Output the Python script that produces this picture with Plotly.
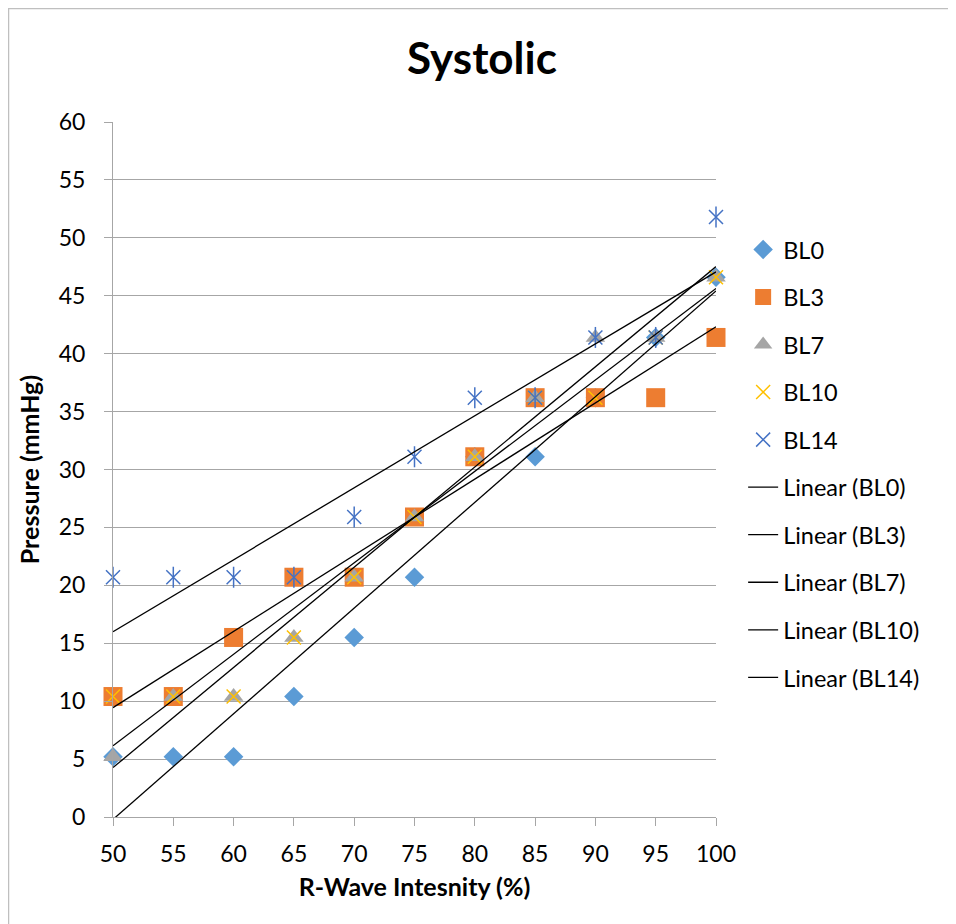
"""Systolic pressure vs R-wave intensity, with linear trendlines per baseline."""

import numpy as np
import plotly.graph_objects as go

FONT_FAMILY = "Lato, 'Open Sans', sans-serif"

intensity = [50, 55, 60, 65, 70, 75, 80, 85, 90, 95, 100]

bl0 = [5.2, 5.2, 5.2, 10.4, 15.5, 20.7, 31.1, 31.1, 36.2, 41.4, 46.6]
bl3 = [10.4, 10.4, 15.5, 20.7, 20.7, 25.9, 31.1, 36.2, 36.2, 36.2, 41.4]
bl7 = [5.2, 10.4, 10.4, 15.5, 20.7, 25.9, 31.1, 36.2, 41.4, 41.4, 46.6]
bl10 = [10.4, 10.4, 10.4, 15.5, 20.7, 25.9, 31.1, 36.2, 36.2, 41.4, 46.6]
bl14 = [20.7, 20.7, 20.7, 20.7, 25.9, 31.1, 36.2, 36.2, 41.4, 41.4, 51.8]

series_names = ["BL0", "BL3", "BL7", "BL10", "BL14"]
series_values = [bl0, bl3, bl7, bl10, bl14]

# Excel-style marker per series
MARKERS = {
    "BL0": {"symbol": "diamond", "size": 15, "color": "#5B9BD5"},
    "BL3": {"symbol": "square", "size": 19, "color": "#ED7D31"},
    "BL7": {"symbol": "triangle-up", "size": 17, "color": "#A5A5A5"},
    "BL10": {"symbol": "x-thin-open", "size": 14, "color": "#FFC000",
             "line": {"width": 1.5}},
    "BL14": {"symbol": "x-thin-open", "size": 14, "color": "#4472C4",
             "line": {"width": 1.5}},
}

fig = go.Figure()

for name, values in zip(series_names, series_values):
    fig.add_trace(go.Scatter(
        x=intensity, y=values,
        name=name, mode="markers",
        marker=MARKERS[name],
        legendgroup=name,
        cliponaxis=False,
    ))
    if name == "BL14":
        # vertical stroke turns the x into the Excel "star" marker
        fig.add_trace(go.Scatter(
            x=intensity, y=values,
            mode="markers", showlegend=False, legendgroup=name,
            marker={"symbol": "line-ns-open", "size": 15, "color": "#4472C4",
                    "line": {"width": 1.5}},
            cliponaxis=False, hoverinfo="skip",
        ))

# Linear trendlines (least squares) across the full x range
x_fit = np.array([intensity[0], intensity[-1]], dtype=float)
for name, values in zip(series_names, series_values):
    slope, intercept = np.polyfit(intensity, values, 1)
    fig.add_trace(go.Scatter(
        x=x_fit, y=slope * x_fit + intercept,
        name=f"Linear ({name})", mode="lines",
        line={"color": "black", "width": 1.3},
        legendgroup=f"lin_{name}",
        cliponaxis=False,
    ))

# page body adds an 8px offset, so the figure is drawn 8px smaller
fig.update_layout(
    width=948, height=916,
    paper_bgcolor="white", plot_bgcolor="white",
    font={"family": FONT_FAMILY, "size": 23, "color": "black"},
    margin={"l": 105, "r": 240, "t": 114, "b": 107},
    title={"text": "<b>Systolic</b>", "x": 0.5, "xanchor": "center",
           "y": 0.945, "yanchor": "middle", "font": {"size": 44}},
    legend={"x": 1.045, "xanchor": "left", "y": 0.848, "yanchor": "top",
            "tracegroupgap": 14, "font": {"size": 23.5},
            "bgcolor": "rgba(0,0,0,0)"},
    showlegend=True,
)

fig.update_xaxes(
    range=[50, 100], tickmode="linear", tick0=50, dtick=5,
    showgrid=False, zeroline=False,
    showline=True, linecolor="#A6A6A6", linewidth=1,
    ticks="outside", ticklen=8, tickcolor="#A6A6A6", ticklabelstandoff=8,
    title={"text": "<b>R-Wave Intesnity (%)</b>", "font": {"size": 25}, "standoff": 12},
)
fig.update_yaxes(
    range=[0, 60], tickmode="linear", tick0=0, dtick=5,
    showgrid=True, gridcolor="#A6A6A6", gridwidth=1, zeroline=False,
    showline=True, linecolor="#A6A6A6", linewidth=1,
    ticks="outside", ticklen=8, tickcolor="#A6A6A6", ticklabelstandoff=14,
    title={"text": "<b>Pressure (mmHg)</b>", "font": {"size": 25}, "standoff": 11},
)

# chart-area border, hugging the figure edge
fig.add_shape(
    type="rect", xref="paper", yref="paper",
    x0=-0.1733, x1=1.388, y0=-0.17, y1=1.1633,
    line={"color": "#BFBFBF", "width": 1.5}, fillcolor="rgba(0,0,0,0)",
)

fig.write_html("out.html")
